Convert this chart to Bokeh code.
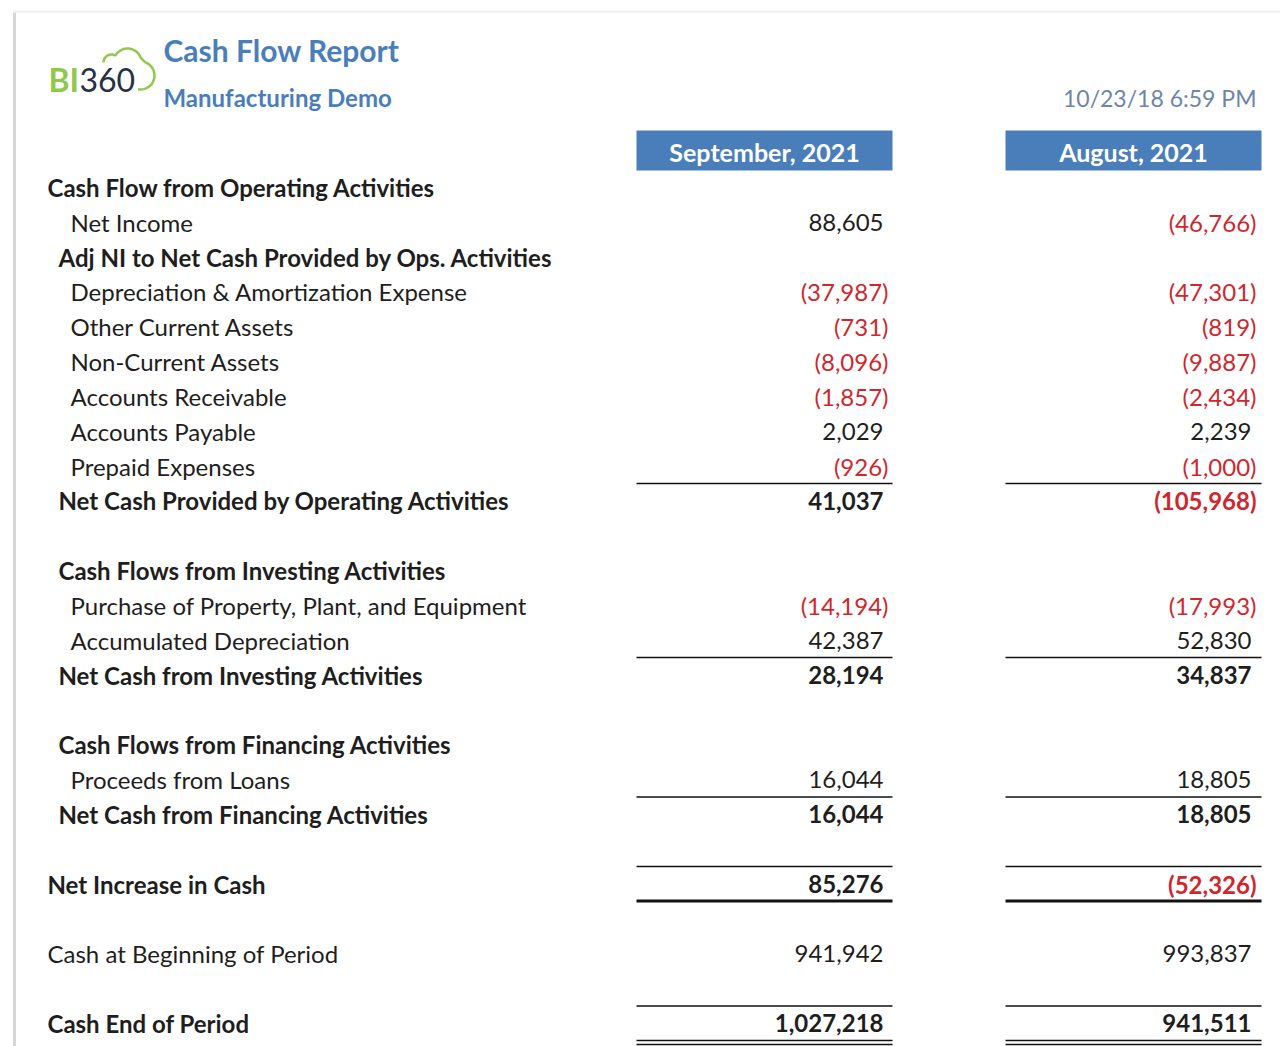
import numpy as np
from bokeh.plotting import figure
from bokeh.models import Range1d, ColumnDataSource
from bokeh.core.properties import value
from bokeh.embed import file_html
from bokeh.resources import INLINE

# ---------------- data ----------------
title = "Cash Flow Report"
subtitle = "Manufacturing Demo"
stamp = "10/23/18 6:59 PM"
periods = ["September, 2021", "August, 2021"]

labels = [
    "Cash Flow from Operating Activities",
    "Net Income",
    "Adj NI to Net Cash Provided by Ops. Activities",
    "Depreciation & Amortization Expense",
    "Other Current Assets",
    "Non-Current Assets",
    "Accounts Receivable",
    "Accounts Payable",
    "Prepaid Expenses",
    "Net Cash Provided by Operating Activities",
    "",
    "Cash Flows from Investing Activities",
    "Purchase of Property, Plant, and Equipment",
    "Accumulated Depreciation",
    "Net Cash from Investing Activities",
    "",
    "Cash Flows from Financing Activities",
    "Proceeds from Loans",
    "Net Cash from Financing Activities",
    "",
    "Net Increase in Cash",
    "",
    "Cash at Beginning of Period",
    "",
    "Cash End of Period",
]
levels = [0, 2, 1, 2, 2, 2, 2, 2, 2, 1, 0, 1, 2, 2, 1, 0, 1, 2, 1, 0, 0, 0, 0, 0, 0]
bold = [1, 0, 1, 0, 0, 0, 0, 0, 0, 1, 0, 1, 0, 0, 1, 0, 1, 0, 1, 0, 1, 0, 0, 0, 1]

sep_values = [None, 88605, None, -37987, -731, -8096, -1857, 2029, -926, 41037, None,
              None, -14194, 42387, 28194, None,
              None, 16044, 16044, None,
              85276, None, 941942, None, 1027218]
aug_values = [None, -46766, None, -47301, -819, -9887, -2434, 2239, -1000, -105968, None,
              None, -17993, 52830, 34837, None,
              None, 18805, 18805, None,
              -52326, None, 993837, None, 941511]

# rules: (row index, kind)
rules = [(9, "above"), (14, "above"), (18, "above"), (20, "above"), (20, "thick_below"),
         (24, "above"), (24, "double_below")]

# ---------------- layout ----------------
W, H = 1280, 1046
TOP_ROW = 187
ROW_H = 34.83
LABEL_X = [47, 58, 70]
COL_L = [636, 1005]
COL_R = [892, 1261]
NUM_R = [883, 1251]
FONT = value("Lato")
FS = "24px"
BLUE = "#4a7ebb"
RED = "#d0262d"
INK = "#1e1e1e"
GREEN = "#92c84a"

def row_y(i):
    return TOP_ROW + i * ROW_H

p = figure(width=W, height=H, x_range=Range1d(0, W), y_range=Range1d(H, 0),
           output_backend="svg", toolbar_location=None,
           x_axis_location=None, y_axis_location=None, min_border=0,
           outline_line_color=None, background_fill_color="white")
p.grid.visible = False

# page frame
p.segment(x0=[14], y0=[12], x1=[14], y1=[H], line_color="#d6d6d6", line_width=3)
p.segment(x0=[14], y0=[11], x1=[W], y1=[11], line_color="#efefef", line_width=2)

# logo: cloud outline built from circle arcs (screen coords, y downward)
def arc_pts(cx, cy, r, a0, a1, n=30):
    t = np.radians(np.linspace(a0, a1, n))
    return cx + r * np.cos(t), cy + r * np.sin(t)

pieces = [arc_pts(111, 62, 8, 180, 300), arc_pts(127, 62, 14, 215, 340),
          arc_pts(140, 75, 14, 290, 460)]
cx_ = np.concatenate([q[0] for q in pieces])
cy_ = np.concatenate([q[1] for q in pieces])
p.line(cx_, cy_, line_color=GREEN, line_width=2.5)
p.text(x=[48], y=[79], text=["BI"], text_font=FONT, text_font_size="32px",
       text_font_style="bold", text_color=GREEN, text_baseline="middle", text_align="left")
p.text(x=[79], y=[79], text=["360"], text_font=FONT, text_font_size="32px",
       text_color="#273044", text_baseline="middle", text_align="left")

# titles
p.text(x=[163], y=[49], text=[title], text_font=FONT, text_font_size="30px",
       text_font_style="bold", text_color=BLUE, text_baseline="middle")
p.text(x=[163], y=[97], text=[subtitle], text_font=FONT, text_font_size="24px",
       text_font_style="bold", text_color=BLUE, text_baseline="middle")
p.text(x=[1256], y=[97], text=[stamp], text_font=FONT, text_font_size="23px",
       text_color="#6d86a8", text_baseline="middle", text_align="right")

# column headers
p.quad(left=COL_L, right=COL_R, top=[130, 130], bottom=[170, 170],
       fill_color=BLUE, line_color=None)
p.text(x=[(COL_L[k] + COL_R[k]) / 2 for k in range(2)], y=[151, 151], text=periods,
       text_font=FONT, text_font_size="25px", text_font_style="bold",
       text_color="white", text_baseline="middle", text_align="center")

# labels
for b in (0, 1):
    idx = [i for i in range(len(labels)) if labels[i] and bold[i] == b]
    src = ColumnDataSource(dict(x=[LABEL_X[levels[i]] for i in idx],
                                y=[row_y(i) for i in idx],
                                t=[labels[i] for i in idx]))
    p.text(x="x", y="y", text="t", source=src, text_font=FONT, text_font_size=FS,
           text_font_style="bold" if b else "normal", text_color=INK,
           text_baseline="middle", text_align="left")

# values
def fmt(v):
    return f"({abs(v):,})" if v < 0 else f"{v:,}"

for k, vals in enumerate([sep_values, aug_values]):
    for b in (0, 1):
        idx = [i for i in range(len(vals)) if vals[i] is not None and bold[i] == b]
        src = ColumnDataSource(dict(
            x=[NUM_R[k] + (5 if vals[i] < 0 else 0) for i in idx],
            y=[row_y(i) for i in idx],
            t=[fmt(vals[i]) for i in idx],
            c=[RED if vals[i] < 0 else INK for i in idx]))
        p.text(x="x", y="y", text="t", text_color="c", source=src, text_font=FONT,
               text_font_size=FS, text_font_style="bold" if b else "normal",
               text_baseline="middle", text_align="right")

# rules
thin_x0, thin_x1, thin_y = [], [], []
thick_x0, thick_x1, thick_y = [], [], []
for r, kind in rules:
    for k in range(2):
        if kind == "above":
            thin_x0.append(COL_L[k]); thin_x1.append(COL_R[k]); thin_y.append(row_y(r) - 17.5)
        elif kind == "thick_below":
            thick_x0.append(COL_L[k]); thick_x1.append(COL_R[k]); thick_y.append(row_y(r) + 17)
        elif kind == "double_below":
            for d in (17, 21):
                thin_x0.append(COL_L[k]); thin_x1.append(COL_R[k]); thin_y.append(row_y(r) + d)
p.segment(x0=thin_x0, x1=thin_x1, y0=thin_y, y1=thin_y, line_color="#111111", line_width=1.5)
p.segment(x0=thick_x0, x1=thick_x1, y0=thick_y, y1=thick_y, line_color="#111111", line_width=3)

open("out.html", "w").write(file_html(p, INLINE))
